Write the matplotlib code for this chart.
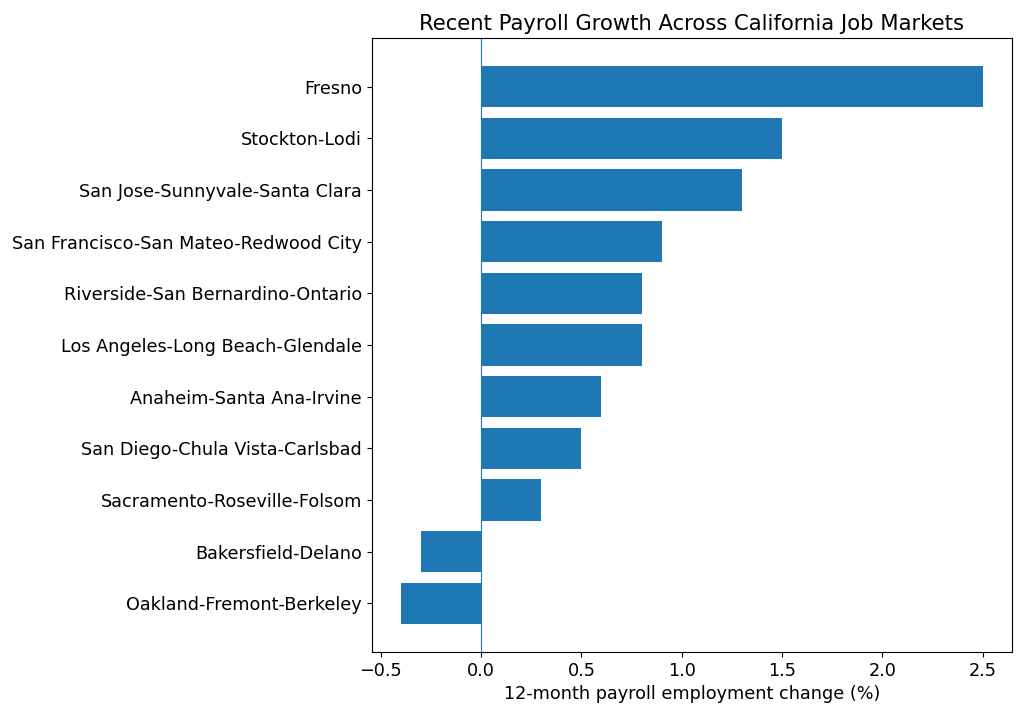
import matplotlib.pyplot as plt

plt.rcParams['font.size'] = 12.7

markets = [
    "Fresno",
    "Stockton-Lodi",
    "San Jose-Sunnyvale-Santa Clara",
    "San Francisco-San Mateo-Redwood City",
    "Riverside-San Bernardino-Ontario",
    "Los Angeles-Long Beach-Glendale",
    "Anaheim-Santa Ana-Irvine",
    "San Diego-Chula Vista-Carlsbad",
    "Sacramento-Roseville-Folsom",
    "Bakersfield-Delano",
    "Oakland-Fremont-Berkeley",
]
change = [2.5, 1.5, 1.3, 0.9, 0.8, 0.8, 0.6, 0.5, 0.3, -0.3, -0.4]

fig, ax = plt.subplots(figsize=(10.24, 7.17), dpi=100)
ax.barh(markets[::-1], change[::-1], color="#1f77b4")
ax.axvline(0, color="#1f77b4", linewidth=0.8)
ax.set_xlabel("12-month payroll employment change (%)")
ax.set_title("Recent Payroll Growth Across California Job Markets")
fig.subplots_adjust(left=0.363, right=0.988, top=0.947, bottom=0.0907)
fig.savefig("out.png")
